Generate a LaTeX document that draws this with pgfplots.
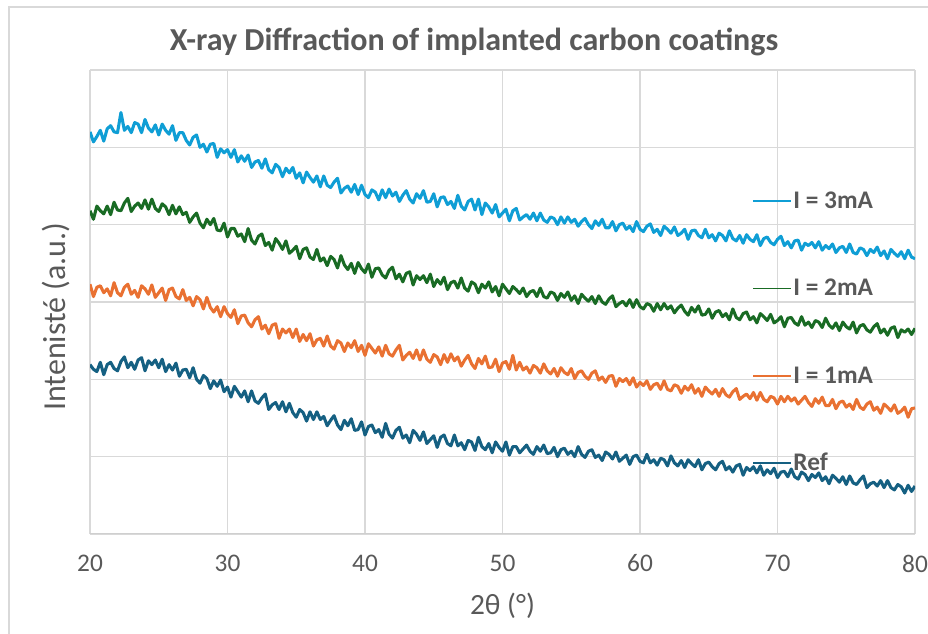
\documentclass[border=0pt]{standalone}
\usepackage{pgfplots}
\pgfplotsset{compat=1.18}
\usepackage{pgfplotstable}
\usepackage{fontspec}
\setmainfont{Carlito}

\definecolor{txt}{HTML}{595959}
\definecolor{grd}{HTML}{D9D9D9}
\definecolor{axc}{HTML}{CFCFCF}
\definecolor{cref}{HTML}{156082}
\definecolor{cone}{HTML}{E97132}
\definecolor{ctwo}{HTML}{196B24}
\definecolor{cthree}{HTML}{0F9ED5}

% 2theta, Ref, I=1mA, I=2mA, I=3mA (offset intensities, a.u.)
\pgfplotstableread{
x ref i1 i2 i3
20.00 2.19 3.23 4.18 5.20
20.25 2.13 3.07 4.07 5.07
20.50 2.10 3.19 4.24 5.14
20.75 2.22 3.21 4.18 5.22
21.00 2.06 3.12 4.14 5.08
21.25 2.19 3.17 4.24 5.24
21.50 2.22 3.08 4.13 5.28
21.75 2.14 3.25 4.29 5.20
22.00 2.11 3.12 4.19 5.19
22.25 2.23 3.08 4.18 5.45
22.50 2.29 3.19 4.28 5.22
22.75 2.15 3.23 4.34 5.27
23.00 2.22 3.10 4.17 5.19
23.25 2.13 3.15 4.24 5.32
23.50 2.25 3.06 4.28 5.30
23.75 2.28 3.21 4.21 5.19
24.00 2.11 3.17 4.32 5.36
24.25 2.24 3.10 4.20 5.25
24.50 2.19 3.22 4.33 5.20
24.75 2.25 3.06 4.21 5.29
25.00 2.15 3.12 4.17 5.16
25.25 2.26 3.18 4.27 5.30
25.50 2.10 3.02 4.23 5.22
25.75 2.19 3.16 4.13 5.17
26.00 2.12 3.18 4.25 5.28
26.25 2.21 3.07 4.14 5.09
26.50 2.04 3.04 4.23 5.19
26.75 2.12 3.16 4.13 5.19
27.00 2.13 3.02 4.16 5.09
27.25 2.02 3.06 4.03 5.03
27.50 2.15 2.95 4.10 5.13
27.75 2.00 3.07 4.15 5.16
28.00 1.95 3.03 4.02 5.00
28.25 2.05 2.91 3.96 5.04
28.50 2.01 3.06 4.07 4.94
28.75 1.88 2.93 4.00 5.04
29.00 1.98 2.87 4.08 5.05
29.25 1.91 2.94 3.93 4.87
29.50 1.99 2.81 3.92 4.98
29.75 1.84 2.94 4.02 4.93
30.00 1.90 2.85 3.84 4.97
30.25 1.77 2.80 3.95 4.87
30.50 1.91 2.90 3.95 4.97
30.75 1.84 2.72 3.85 4.81
31.00 1.77 2.82 3.88 4.89
31.25 1.85 2.83 3.78 4.82
31.50 1.71 2.73 3.95 4.90
31.75 1.85 2.68 3.80 4.74
32.00 1.72 2.77 3.75 4.81
32.25 1.69 2.81 3.85 4.83
32.50 1.76 2.65 3.88 4.73
32.75 1.81 2.70 3.73 4.85
33.00 1.61 2.59 3.77 4.71
33.25 1.67 2.70 3.67 4.67
33.50 1.70 2.72 3.82 4.78
33.75 1.61 2.53 3.76 4.74
34.00 1.71 2.65 3.68 4.62
34.25 1.58 2.60 3.79 4.73
34.50 1.69 2.65 3.63 4.67
34.75 1.57 2.54 3.67 4.74
35.00 1.51 2.65 3.72 4.60
35.25 1.61 2.49 3.56 4.67
35.50 1.57 2.58 3.68 4.54
35.75 1.46 2.50 3.70 4.68
36.00 1.58 2.59 3.58 4.61
36.25 1.48 2.43 3.55 4.55
36.50 1.58 2.51 3.68 4.63
36.75 1.48 2.53 3.53 4.49
37.00 1.52 2.43 3.57 4.63
37.25 1.40 2.56 3.47 4.51
37.50 1.47 2.43 3.59 4.48
37.75 1.53 2.39 3.55 4.55
38.00 1.41 2.50 3.44 4.60
38.25 1.35 2.47 3.60 4.41
38.50 1.47 2.36 3.48 4.47
38.75 1.40 2.47 3.42 4.50
39.00 1.49 2.41 3.50 4.42
39.25 1.34 2.50 3.37 4.52
39.50 1.35 2.36 3.51 4.39
39.75 1.45 2.44 3.43 4.51
40.00 1.28 2.31 3.38 4.39
40.25 1.39 2.46 3.49 4.35
40.50 1.41 2.40 3.32 4.45
40.75 1.31 2.34 3.43 4.42
41.00 1.35 2.42 3.44 4.32
41.25 1.25 2.30 3.35 4.45
41.50 1.43 2.44 3.31 4.35
41.75 1.29 2.33 3.41 4.46
42.00 1.24 2.30 3.45 4.37
42.25 1.34 2.38 3.30 4.42
42.50 1.38 2.44 3.36 4.30
42.75 1.24 2.25 3.26 4.38
43.00 1.28 2.31 3.37 4.44
43.25 1.18 2.35 3.39 4.33
43.50 1.34 2.27 3.22 4.28
43.75 1.29 2.38 3.34 4.40
44.00 1.21 2.25 3.29 4.34
44.25 1.32 2.38 3.34 4.44
44.50 1.17 2.26 3.25 4.29
44.75 1.22 2.22 3.36 4.30
45.00 1.27 2.32 3.20 4.40
45.25 1.12 2.29 3.29 4.23
45.50 1.25 2.19 3.23 4.35
45.75 1.28 2.32 3.32 4.36
46.00 1.17 2.22 3.16 4.26
46.25 1.14 2.33 3.25 4.30
46.50 1.28 2.24 3.27 4.21
46.75 1.14 2.29 3.18 4.38
47.00 1.18 2.17 3.31 4.24
47.25 1.09 2.25 3.18 4.19
47.50 1.21 2.31 3.14 4.30
47.75 1.19 2.20 3.26 4.33
48.00 1.08 2.14 3.23 4.19
48.25 1.25 2.27 3.12 4.33
48.50 1.13 2.20 3.23 4.13
48.75 1.09 2.30 3.18 4.28
49.00 1.17 2.15 3.26 4.23
49.25 1.05 2.16 3.13 4.15
49.50 1.19 2.26 3.20 4.26
49.75 1.12 2.10 3.08 4.10
50.00 1.07 2.21 3.23 4.15
50.25 1.19 2.23 3.17 4.20
50.50 1.02 2.13 3.11 4.05
50.75 1.13 2.31 3.20 4.18
51.00 1.13 2.12 3.16 4.21
51.25 1.05 2.22 3.11 4.06
51.50 1.10 2.12 3.18 4.10
51.75 1.15 2.16 3.07 4.13
52.00 1.07 2.08 3.13 4.07
52.25 1.03 2.18 3.15 4.15
52.50 1.13 2.15 3.07 4.05
52.75 1.07 2.08 3.18 4.15
53.00 1.15 2.20 3.07 4.06
53.25 1.04 2.11 3.05 4.03
53.50 1.05 2.07 3.13 4.10
53.75 1.12 2.14 3.11 4.08
54.00 1.00 2.04 3.02 4.00
54.25 1.09 2.15 3.11 4.10
54.50 1.11 2.09 3.06 4.02
54.75 1.03 2.06 3.13 4.10
55.00 1.07 2.14 3.02 4.03
55.25 1.00 2.01 3.08 4.07
55.50 1.13 2.09 2.98 3.98
55.75 1.03 2.11 3.10 4.04
56.00 0.99 2.04 3.05 4.08
56.25 1.07 2.00 3.01 4.00
56.50 1.09 2.08 3.07 3.95
56.75 0.99 2.11 2.98 4.05
57.00 1.02 1.99 3.08 3.99
57.25 0.95 2.03 3.00 4.07
57.50 1.06 1.96 2.97 3.96
57.75 1.03 2.04 3.04 3.96
58.00 0.97 2.05 3.08 4.04
58.25 1.06 1.91 2.94 3.92
58.50 0.94 2.01 2.98 4.00
58.75 0.98 1.97 3.01 4.02
59.00 1.02 2.01 2.95 3.94
59.25 0.90 1.93 3.03 3.98
59.50 1.00 2.02 2.93 3.91
59.75 1.02 1.90 3.03 4.04
60.00 0.94 1.96 2.94 3.94
60.25 0.92 1.92 2.91 3.91
60.50 1.03 1.98 2.98 3.98
60.75 0.92 1.87 2.96 4.01
61.00 0.96 1.93 2.88 3.90
61.25 0.89 1.95 2.98 3.94
61.50 0.98 1.87 2.90 3.86
61.75 0.96 1.98 2.98 3.98
62.00 0.88 1.87 2.91 3.94
62.25 1.01 1.85 2.95 3.89
62.50 0.92 1.93 2.86 3.97
62.75 0.88 1.91 2.92 3.86
63.00 0.95 1.82 2.96 3.89
63.25 0.86 1.91 2.88 3.94
63.50 0.96 1.86 2.83 3.81
63.75 0.91 1.93 2.93 3.92
64.00 0.87 1.82 2.87 3.93
64.25 0.96 1.88 2.95 3.86
64.50 0.83 1.78 2.83 3.83
64.75 0.91 1.90 2.84 3.94
65.00 0.93 1.85 2.91 3.83
65.25 0.87 1.81 2.79 3.87
65.50 0.83 1.87 2.87 3.79
65.75 0.91 1.78 2.89 3.89
66.00 0.94 1.88 2.81 3.86
66.25 0.83 1.80 2.85 3.79
66.50 0.87 1.77 2.77 3.92
66.75 0.80 1.84 2.91 3.82
67.00 0.88 1.88 2.80 3.79
67.25 0.90 1.74 2.77 3.86
67.50 0.76 1.78 2.85 3.76
67.75 0.86 1.81 2.87 3.87
68.00 0.82 1.75 2.77 3.81
68.25 0.87 1.83 2.81 3.78
68.50 0.79 1.73 2.73 3.87
68.75 0.88 1.83 2.85 3.73
69.00 0.76 1.74 2.81 3.82
69.25 0.83 1.71 2.76 3.84
69.50 0.78 1.78 2.84 3.77
69.75 0.85 1.76 2.73 3.74
70.00 0.73 1.68 2.76 3.81
70.25 0.80 1.78 2.81 3.85
70.50 0.81 1.71 2.68 3.73
70.75 0.74 1.78 2.79 3.78
71.00 0.84 1.72 2.80 3.70
71.25 0.74 1.76 2.73 3.79
71.50 0.71 1.68 2.70 3.80
71.75 0.80 1.73 2.81 3.67
72.00 0.77 1.78 2.70 3.76
72.25 0.69 1.70 2.74 3.73
72.50 0.77 1.65 2.67 3.77
72.75 0.73 1.75 2.76 3.70
73.00 0.79 1.69 2.74 3.78
73.25 0.69 1.77 2.67 3.67
73.50 0.74 1.66 2.79 3.73
73.75 0.65 1.66 2.70 3.69
74.00 0.76 1.74 2.66 3.75
74.25 0.72 1.62 2.73 3.64
74.50 0.67 1.70 2.63 3.70
74.75 0.74 1.72 2.74 3.72
75.00 0.64 1.64 2.68 3.64
75.25 0.75 1.68 2.65 3.75
75.50 0.66 1.61 2.74 3.64
75.75 0.64 1.74 2.60 3.62
76.00 0.70 1.64 2.69 3.70
76.25 0.75 1.61 2.71 3.68
76.50 0.60 1.68 2.64 3.60
76.75 0.65 1.71 2.61 3.68
77.00 0.67 1.60 2.68 3.64
77.25 0.62 1.64 2.72 3.71
77.50 0.69 1.56 2.60 3.60
77.75 0.60 1.68 2.65 3.66
78.00 0.69 1.64 2.57 3.56
78.25 0.60 1.59 2.66 3.68
78.50 0.57 1.67 2.68 3.63
78.75 0.64 1.56 2.54 3.59
79.00 0.61 1.59 2.64 3.65
79.25 0.53 1.64 2.61 3.56
79.50 0.63 1.51 2.65 3.67
79.75 0.55 1.62 2.58 3.58
80.00 0.62 1.63 2.66 3.56
}\xrd

\begin{document}
\begin{tikzpicture}
\useasboundingbox (0pt,0pt) rectangle (696pt,475.5pt);
% chart frame (cropped on the right and bottom)
\draw[grd, line width=1.1pt] (6.75pt,-10pt) -- (6.75pt,470.25pt) -- (710pt,470.25pt);
\node[text=txt, font=\fontsize{24}{28}\selectfont\bfseries] at (355.5pt,444pt)
  {X-ray Diffraction of implanted carbon coatings};
% y axis title
\node[rotate=90, text=txt, font=\fontsize{24}{28}\selectfont] at (42pt,238pt)
  {Intenisté (a.u.)};
\begin{axis}[
  at={(67.5pt,75pt)}, anchor=south west,
  scale only axis, width=618.75pt, height=348pt,
  xmin=20, xmax=80, ymin=0, ymax=6,
  xtick={20,30,40,50,60,70,80}, ytick={0,1,2,3,4,5,6}, yticklabels={},
  grid=major, major grid style={draw=grd, line width=1.1pt},
  axis line style={draw=none}, major tick length=0pt,
  /pgf/number format/assume math mode=true,
  xticklabel style={text=txt, font=\fontsize{19}{22}\selectfont, yshift=-12pt},
  xlabel={2θ (°)},
  xlabel style={text=txt, font=\fontsize{22}{26}\selectfont, yshift=-8.5pt},
  legend style={at={(axis cs:68.15,4.47)}, anchor=north west, draw=none, fill=none,
    inner sep=0pt, row sep=46.5pt, font=\fontsize{19}{22}\selectfont\bfseries, text=txt,
    nodes={inner sep=1pt, text height=14pt, text depth=3pt}},
  legend cell align=left,
  legend image code/.code={\draw[#1, line width=1.3pt] (0pt,0pt) -- (28.5pt,0pt);},
  every axis plot/.append style={line width=2.3pt, line join=round},
]
\addplot[cthree] table[x=x, y=i3] {\xrd};
\addlegendentry{I = 3mA}
\addplot[ctwo] table[x=x, y=i2] {\xrd};
\addlegendentry{I = 2mA}
\addplot[cone] table[x=x, y=i1] {\xrd};
\addlegendentry{I = 1mA}
\addplot[cref] table[x=x, y=ref] {\xrd};
\addlegendentry{Ref}
\draw[axc, line width=1.5pt] (rel axis cs:0,0) -- (rel axis cs:1,0);
\end{axis}
\end{tikzpicture}
\end{document}
